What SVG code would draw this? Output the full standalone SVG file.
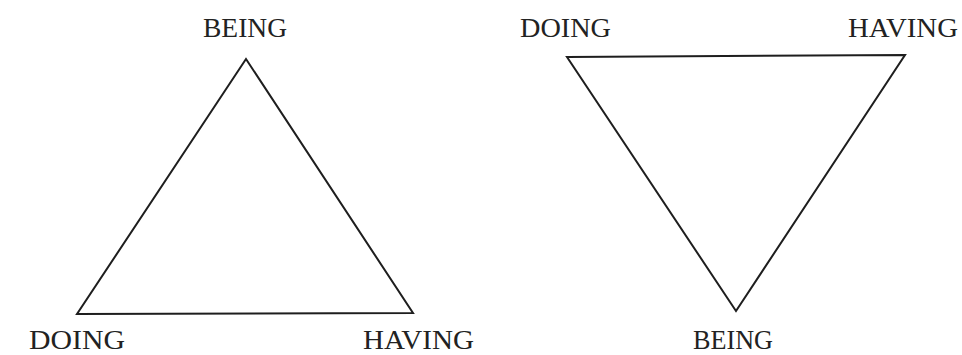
<svg xmlns="http://www.w3.org/2000/svg" width="962" height="355" viewBox="0 0 962 355">
<style>
.lbl{font-family:"Liberation Serif","Times New Roman",serif;font-size:27px;fill:#222;}
.tri{fill:none;stroke:#1e1e1e;stroke-width:2;stroke-linejoin:miter;}
</style>
<rect width="962" height="355" fill="#fff"/>
<g id="connectors">
<polygon id="tri-left" class="tri" points="246,59 77,314 413,313"/>
<polygon id="tri-right" class="tri" points="567,57 905,55 736,311"/>
</g>
<g id="left-being"><text class="lbl" x="203" y="37" textLength="84" lengthAdjust="spacingAndGlyphs">BEING</text></g>
<g id="left-doing"><text class="lbl" x="29" y="349" textLength="96" lengthAdjust="spacingAndGlyphs">DOING</text></g>
<g id="left-having"><text class="lbl" x="363" y="349" textLength="111" lengthAdjust="spacingAndGlyphs">HAVING</text></g>
<g id="right-doing"><text class="lbl" x="520" y="37" textLength="91" lengthAdjust="spacingAndGlyphs">DOING</text></g>
<g id="right-having"><text class="lbl" x="848" y="37" textLength="110" lengthAdjust="spacingAndGlyphs">HAVING</text></g>
<g id="right-being"><text class="lbl" x="693" y="349" textLength="80" lengthAdjust="spacingAndGlyphs">BEING</text></g>
</svg>
